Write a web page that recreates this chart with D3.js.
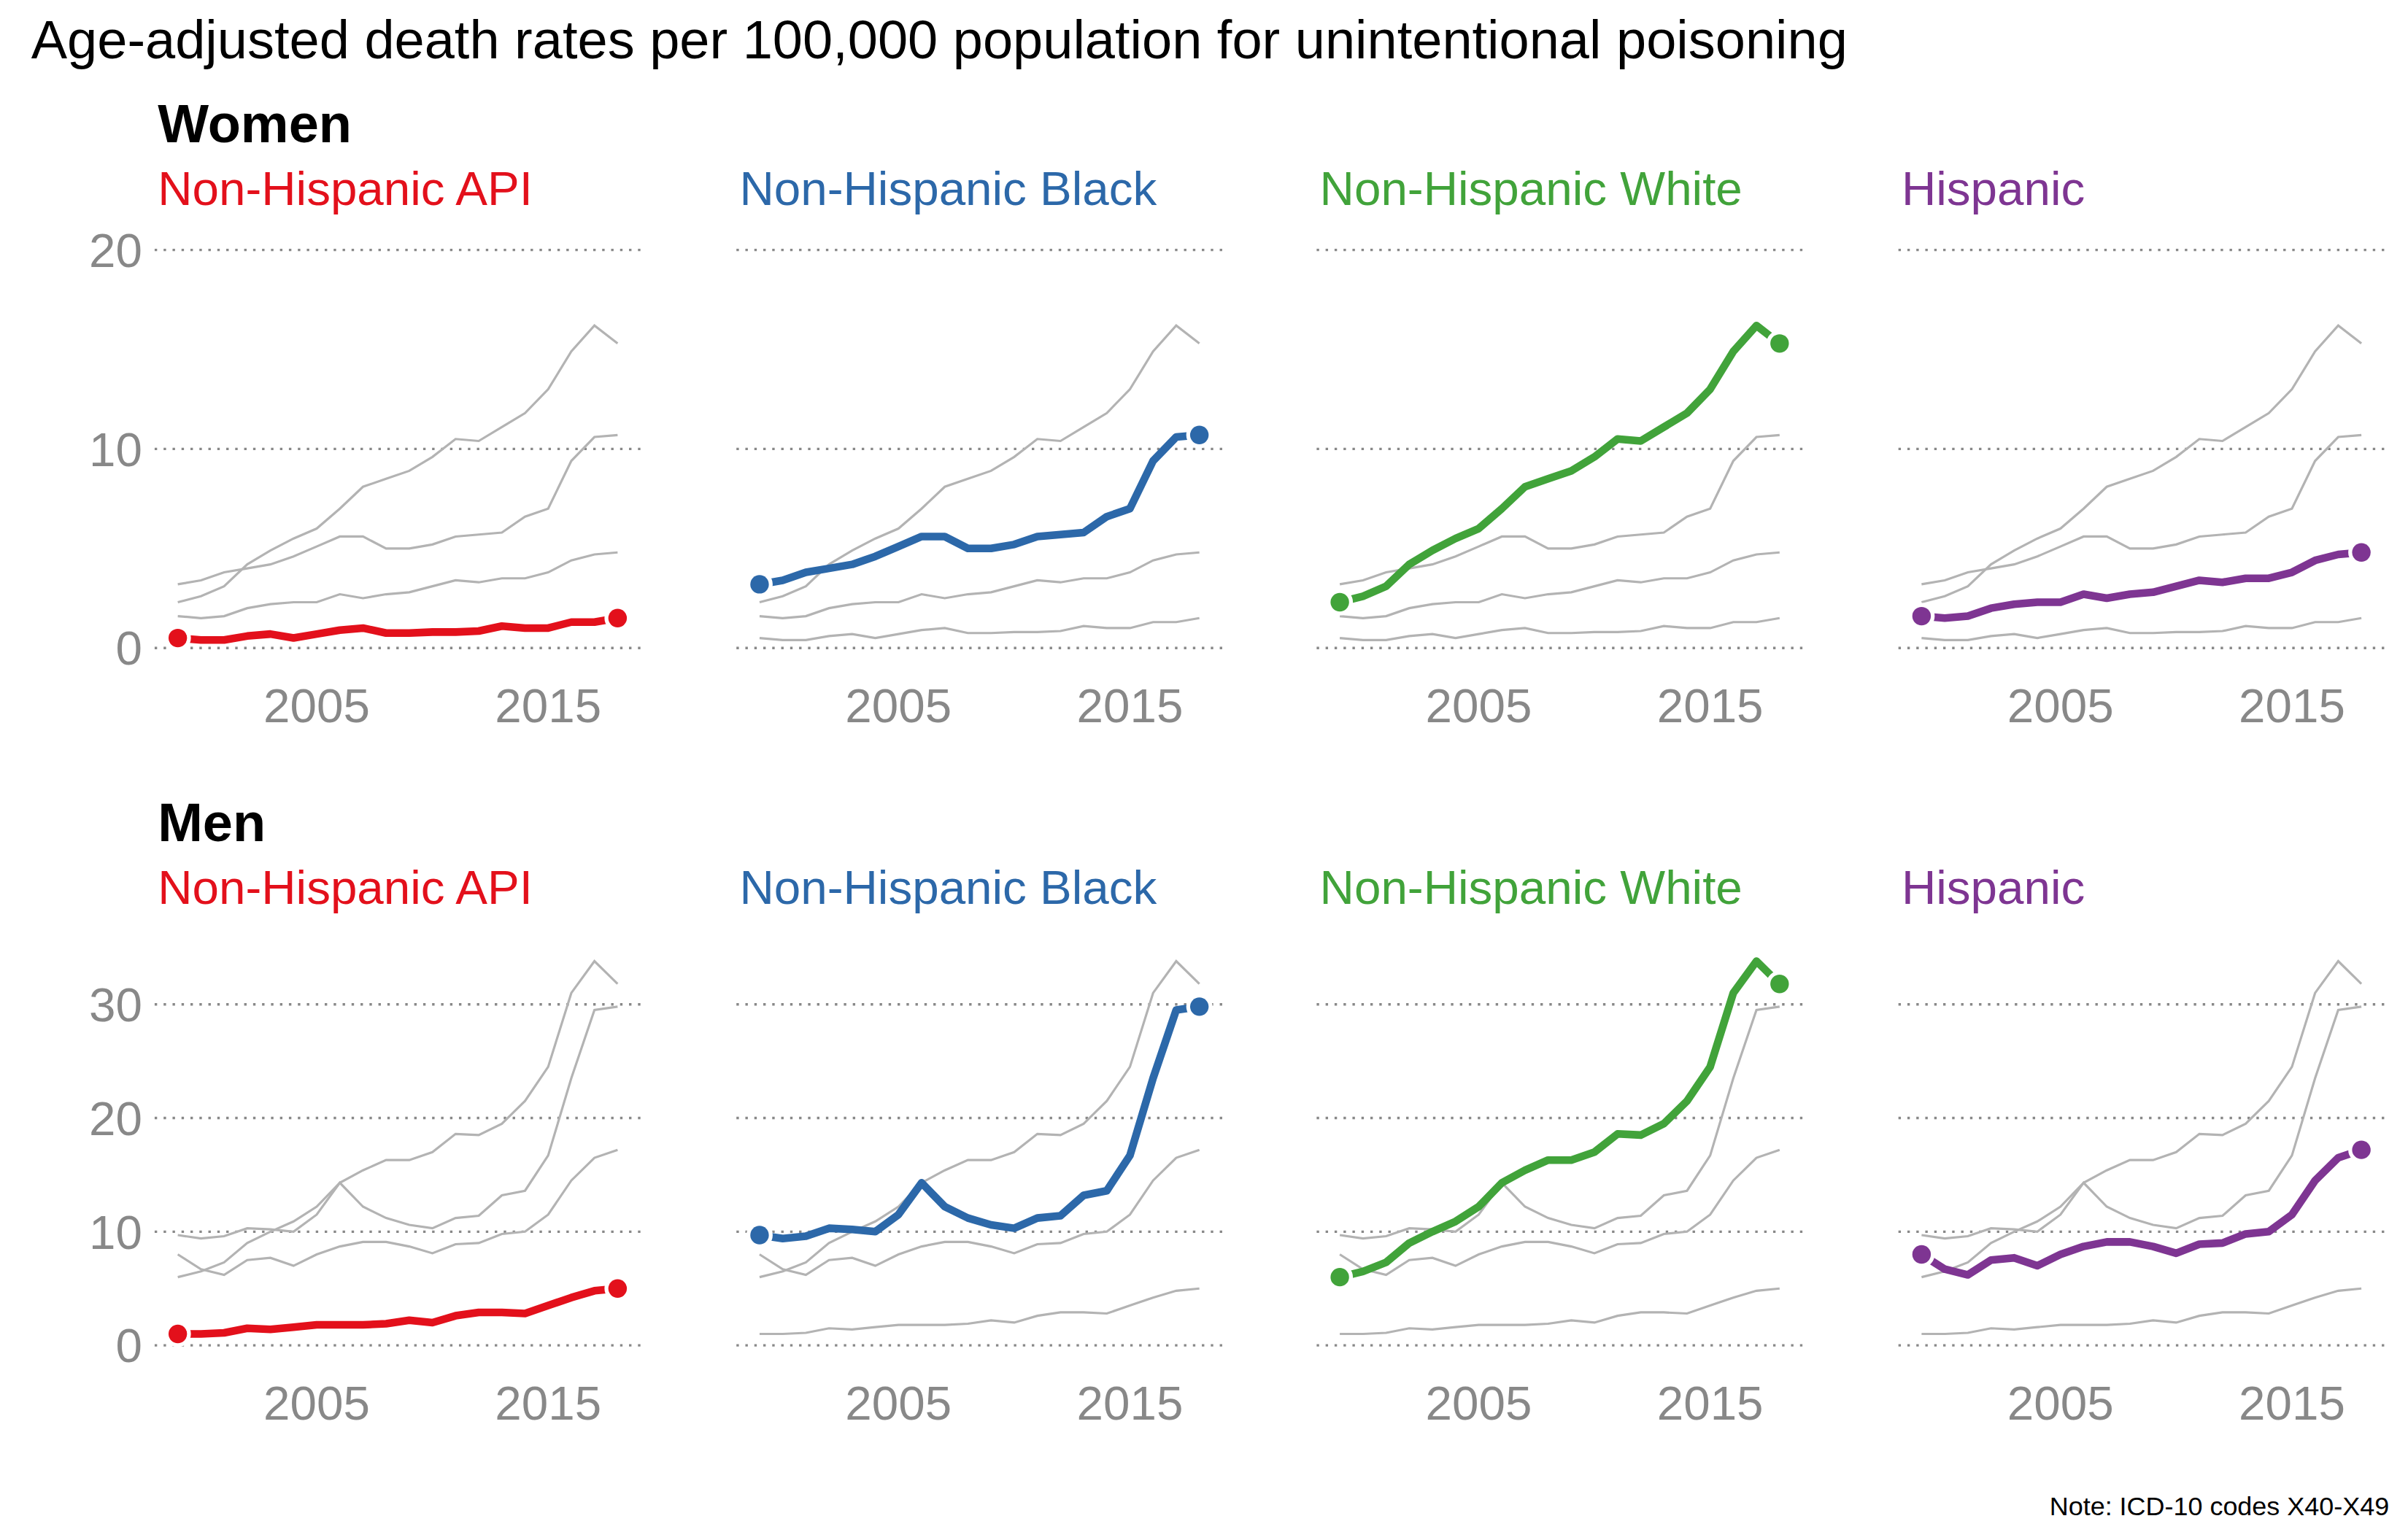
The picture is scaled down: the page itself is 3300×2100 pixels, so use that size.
<!DOCTYPE html>
<html><head><meta charset="utf-8">
<script src="https://cdn.jsdelivr.net/npm/d3@7"></script>
<style>body{margin:0;background:#fff}text{font-family:"Liberation Sans",Arial,sans-serif}</style>
</head><body>
<script>
var years = d3.range(1999, 2019);
var groups = ["Non-Hispanic API", "Non-Hispanic Black", "Non-Hispanic White", "Hispanic"];
var colors = ["#e3101b", "#2c68a9", "#41a33a", "#7e3592"];

var womenAPI = [0.5,0.4,0.4,0.6,0.7,0.5,0.7,0.9,1.0,0.75,0.75,0.8,0.8,0.85,1.1,1.0,1.0,1.3,1.3,1.5];
var womenBlack = [3.2,3.4,3.8,4.0,4.2,4.6,5.1,5.6,5.6,5.0,5.0,5.2,5.6,5.7,5.8,6.6,7.0,9.4,10.6,10.7];
var womenWhite = [2.3,2.6,3.1,4.2,4.9,5.5,6.0,7.0,8.1,8.5,8.9,9.6,10.5,10.4,11.1,11.8,13.0,14.9,16.2,15.3];
var womenHisp = [1.6,1.5,1.6,2.0,2.2,2.3,2.3,2.7,2.5,2.7,2.8,3.1,3.4,3.3,3.5,3.5,3.8,4.4,4.7,4.8];

var menAPI = [1.0,1.0,1.1,1.5,1.4,1.6,1.8,1.8,1.8,1.9,2.2,2.0,2.6,2.9,2.9,2.8,3.5,4.2,4.8,5.0];
var menBlack = [9.7,9.4,9.6,10.3,10.2,10.0,11.5,14.3,12.2,11.2,10.6,10.3,11.2,11.4,13.2,13.6,16.7,23.5,29.5,29.8];
var menWhite = [6.0,6.5,7.3,9.0,10.0,10.9,12.2,14.3,15.4,16.3,16.3,17.0,18.6,18.5,19.5,21.5,24.5,31.0,33.8,31.8];
var menHisp = [8.0,6.7,6.2,7.5,7.7,7.0,8.0,8.7,9.1,9.1,8.7,8.1,8.9,9.0,9.8,10.0,11.5,14.5,16.5,17.2];

var yTicksWomen = [0, 10, 20];
var yTicksMen = [0, 10, 20, 30];
var xTicks = [2005, 2015];

var blocks = [
  {label: "Women", series: [womenAPI, womenBlack, womenWhite, womenHisp], ticks: yTicksWomen,
   top: 80, y0: 420, y1: 162, vmax: 20},
  {label: "Men", series: [menAPI, menBlack, menWhite, menHisp], ticks: yTicksMen,
   top: 533, y0: 872, y1: 651, vmax: 30}
];

var W = 1560, H = 993;
var svg = d3.select("body").append("svg")
  .attr("width", 3300).attr("height", 2100)
  .attr("viewBox", "0 0 " + W + " " + H);

svg.append("text").attr("x", 20).attr("y", 38).style("font-size", "35px")
  .text("Age-adjusted death rates per 100,000 population for unintentional poisoning");

var colOffset = [0, 377, 753, 1130];

blocks.forEach(function (b) {
  var y = d3.scaleLinear().domain([0, b.vmax]).range([b.y0, b.y1]);
  svg.append("text").attr("x", 102).attr("y", b.top + 12).style("font-size", "35px")
    .style("font-weight", "bold").text(b.label);

  groups.forEach(function (g, gi) {
    var ox = colOffset[gi];
    var x = d3.scaleLinear().domain([1999, 2018]).range([115 + ox, 400 + ox]);
    var p = svg.append("g");

    p.append("text").attr("x", 102 + ox).attr("y", b.top + 53).style("font-size", "31px")
      .attr("fill", colors[gi]).text(g);

    // grid
    p.selectAll(".grid").data(b.ticks).join("line")
      .attr("x1", 100 + ox).attr("x2", 418 + ox)
      .attr("y1", function (d) { return y(d); }).attr("y2", function (d) { return y(d); })
      .attr("stroke", "#888").attr("stroke-width", 1.6).attr("stroke-dasharray", "1.6,4.2");

    if (gi === 0) {
      p.selectAll(".yl").data(b.ticks).join("text")
        .attr("x", 92).attr("y", function (d) { return y(d) + 11; })
        .attr("text-anchor", "end").style("font-size", "31px").attr("fill", "#888")
        .text(function (d) { return d; });
    }
    p.selectAll(".xl").data(xTicks).join("text")
      .attr("x", function (d) { return x(d); }).attr("y", b.y0 + 48)
      .attr("text-anchor", "middle").style("font-size", "31px").attr("fill", "#888")
      .text(function (d) { return d; });

    var line = d3.line().x(function (d, i) { return x(years[i]); }).y(function (d) { return y(d); });

    b.series.forEach(function (s, si) {
      if (si === gi) return;
      p.append("path").attr("d", line(s)).attr("fill", "none")
        .attr("stroke", "#b3b3b3").attr("stroke-width", 1.5);
    });

    var s = b.series[gi];
    p.append("path").attr("d", line(s)).attr("fill", "none")
      .attr("stroke", colors[gi]).attr("stroke-width", 5).attr("stroke-linejoin", "round");
    [0, s.length - 1].forEach(function (i) {
      p.append("circle").attr("cx", x(years[i])).attr("cy", y(s[i])).attr("r", 6)
        .attr("fill", colors[gi]).attr("stroke", "#fff").attr("stroke-width", 5)
        .attr("paint-order", "stroke");
    });
  });
});

svg.append("text").attr("x", 1548).attr("y", 982).attr("text-anchor", "end")
  .style("font-size", "17px").text("Note: ICD-10 codes X40-X49");
</script>
</body></html>
